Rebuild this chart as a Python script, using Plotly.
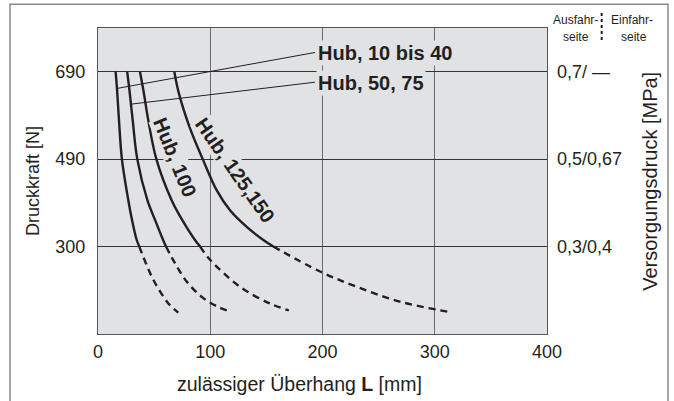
import plotly.graph_objects as go

# y axis is laid out in supply pressure (MPa, extend side); the force scale is tick text only
p_ticks = [0.3, 0.5, 0.7]
force_labels = ["300", "490", "690"]
pressure_labels = ["0,3/0,4", "0,5/0,67", "0,7/ —"]
x_ticks = [0, 100, 200, 300, 400]

# Hub, 10 bis 40
h1_L = [15.7, 17, 18.7, 21.3, 27, 30.3, 34.5, 36.8]
h1_p = [0.7, 0.658, 0.589, 0.5, 0.406, 0.361, 0.315, 0.3]
h1_L_ext = [36.8, 49.3, 62.7, 71.5]
h1_p_ext = [0.3, 0.224, 0.170, 0.149]

# Hub, 50, 75
h2_L = [26, 28, 30.9, 35, 44, 50.8, 58, 60.6]
h2_p = [0.7, 0.658, 0.589, 0.5, 0.406, 0.361, 0.315, 0.3]
h2_L_ext = [60.6, 68.6, 79, 92.4, 107, 119]
h2_p_ext = [0.3, 0.262, 0.22, 0.185, 0.162, 0.15]

# Hub, 100
h3_L = [37.4, 40.4, 44.8, 52, 65.6, 75, 86.4, 91]
h3_p = [0.7, 0.658, 0.589, 0.5, 0.406, 0.361, 0.315, 0.3]
h3_L_ext = [91, 99.8, 126.5, 153, 170]
h3_p_ext = [0.3, 0.27, 0.208, 0.17, 0.154]

# Hub, 125,150
h4_L = [68, 72, 81.5, 93.3, 105.7, 117.6, 132.5, 147.3, 156.2]
h4_p = [0.7, 0.651, 0.574, 0.5, 0.429, 0.383, 0.345, 0.315, 0.3]
h4_L_ext = [156.2, 197.8, 230.5, 269, 314]
h4_p_ext = [0.3, 0.243, 0.208, 0.174, 0.150]

# leader lines to the two upper labels
lead1_L = [17.5, 193.3]
lead1_p = [0.662, 0.744]
lead2_L = [30, 193.3]
lead2_p = [0.626, 0.676]

FONT = "Liberation Sans, Arial, sans-serif"
BG = "#e1e2e4"
INK = "#231f20"

fig = go.Figure()

for L, p in [(h1_L, h1_p), (h2_L, h2_p), (h3_L, h3_p), (h4_L, h4_p)]:
    fig.add_trace(go.Scatter(x=L, y=p, mode="lines", line=dict(color=INK, width=2.4, shape="spline"),
                             showlegend=False, hoverinfo="skip"))

for L, p in [(h1_L_ext, h1_p_ext), (h2_L_ext, h2_p_ext), (h3_L_ext, h3_p_ext), (h4_L_ext, h4_p_ext)]:
    fig.add_trace(go.Scatter(x=L, y=p, mode="lines",
                             line=dict(color=INK, width=2.4, shape="spline", dash="7px,5px"),
                             showlegend=False, hoverinfo="skip"))

for L, p in [(lead1_L, lead1_p), (lead2_L, lead2_p)]:
    fig.add_trace(go.Scatter(x=L, y=p, mode="lines", line=dict(color=INK, width=1),
                             showlegend=False, hoverinfo="skip"))

# invisible trace so the right-hand axis gets drawn
fig.add_trace(go.Scatter(x=[0], y=[0.5], yaxis="y2", mode="markers", marker=dict(opacity=0),
                         showlegend=False, hoverinfo="skip"))


def note(x, y, text, size=18, paper=True, **kw):
    d = dict(x=x, y=y, text=text, showarrow=False, xanchor="center", yanchor="middle",
             font=dict(family=FONT, size=size, color=INK))
    if paper:
        d.update(xref="paper", yref="paper")
    d.update(kw)
    return d


annotations = [
    note(193.3, 0.743, "<b>Hub, 10 bis 40</b>", 20, paper=False, xanchor="left",
         bgcolor=BG, borderpad=1, xshift=1),
    note(193.3, 0.674, "<b>Hub, 50, 75</b>", 20, paper=False, xanchor="left",
         bgcolor=BG, borderpad=1, xshift=1),
    note(68.2, 0.504, "<b>Hub, 100</b>", 20, paper=False, textangle=68, bgcolor=BG, borderpad=0),
    note(122, 0.475, "<b>Hub, 125,150</b>", 20, paper=False, textangle=55, bgcolor=BG, borderpad=0),
    # axis titles
    note(-0.145, 0.5, "Druckkraft [N]", textangle=-90),
    note(1.229, 0.5, "Versorgungsdruck [MPa]", 20, textangle=-90),
    note(0.4488, -0.163, "zulässiger Überhang <b>L</b> [mm]", 19.5),
    # side headers
    note(1.0635, 1.026, "Ausfahr-", 12),
    note(1.0645, 0.971, "seite", 12),
    note(1.190, 1.026, "Einfahr-", 12),
    note(1.193, 0.971, "seite", 12),
]

shapes = [
    dict(type="rect", xref="paper", yref="paper", x0=-0.196, x1=1.2695, y0=-0.3, y1=1.078,
         line=dict(color="#8a8a8a", width=1.5), layer="below"),
    dict(type="line", xref="paper", yref="paper", x0=1.1218, x1=1.1218, y0=0.961, y1=1.052,
         line=dict(color=INK, width=2, dash="dot")),
]

fig.update_layout(
    width=674, height=401,
    margin=dict(l=98, r=127, t=28, b=67),
    paper_bgcolor="white",
    plot_bgcolor=BG,
    font=dict(family=FONT, size=18, color=INK),
    xaxis=dict(range=[0, 400], tickvals=x_ticks, showgrid=True, gridcolor="#6b6b6b", gridwidth=1.2,
               zeroline=False, showline=True, linecolor="#555", linewidth=1.2, mirror=True,
               ticks="", ticklabelstandoff=1, fixedrange=True),
    yaxis=dict(range=[0.1, 0.8], tickvals=p_ticks, ticktext=force_labels, showgrid=True,
               gridcolor="#333", gridwidth=1.2, zeroline=False, showline=True, linecolor="#555",
               linewidth=1.2, mirror=True, ticks="", ticklabelstandoff=8),
    yaxis2=dict(range=[0.1, 0.8], tickvals=p_ticks, ticktext=pressure_labels, overlaying="y",
                side="right", showgrid=False, zeroline=False, ticks="", ticklabelstandoff=9),
    annotations=annotations,
    shapes=shapes,
    showlegend=False,
)

# the page body has a default 8px margin; drop it so the figure sits at the window corner
fig.write_html("out.html", config={"displayModeBar": False},
               post_script="document.body.style.margin='0';")
